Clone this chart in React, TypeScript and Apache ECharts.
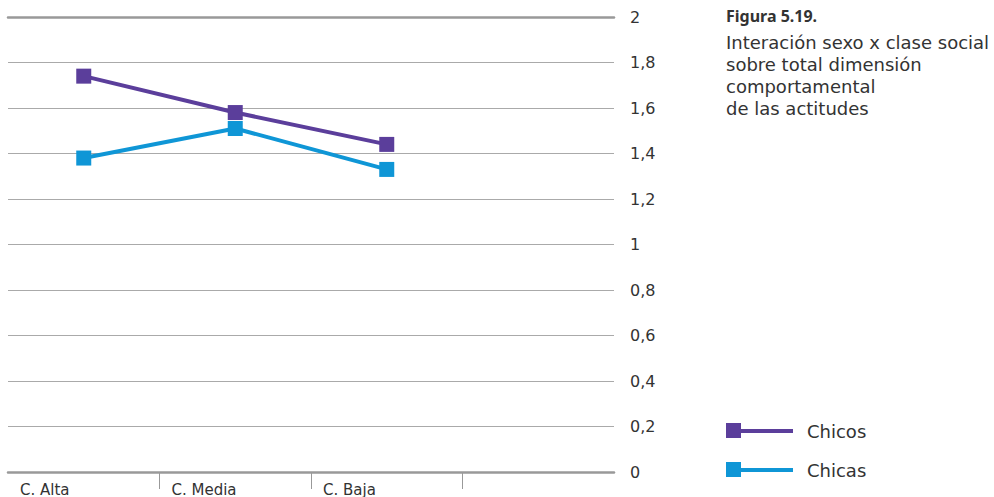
import React, { useEffect, useRef } from "react";
import * as echarts from "echarts";

const categories = ["C. Alta", "C. Media", "C. Baja", ""];
const labelCategories = ["C. Alta", "C. Media", "C. Baja", "", ""];
const chicos = [1.74, 1.58, 1.44];
const chicas = [1.38, 1.51, 1.33];
const seriesNames = ["Chicos", "Chicas"];
const colors = ["#5b3e9b", "#0f96d6"];
const titleLines = [
  "Interación sexo x clase social",
  "sobre total dimensión",
  "comportamental",
  "de las actitudes",
];

export default function App() {
  const ref = useRef<HTMLDivElement>(null);
  useEffect(() => {
    if (!ref.current) return;
    const chart = echarts.init(ref.current, undefined, { renderer: "svg" });
    const font = "'DejaVu Sans', sans-serif";
    const legendY = [431, 470];
    const graphic: any[] = [
      {
        type: "text",
        left: 726,
        top: 8,
        style: { text: "Figura 5.19.", font: `bold 16px 'Noto Sans', sans-serif`, fill: "#333" },
      },
      {
        type: "text",
        left: 726,
        top: 31,
        style: {
          text: titleLines.join("\n"),
          font: `18px ${font}`,
          lineHeight: 22,
          fill: "#333",
        },
      },
    ];
    seriesNames.forEach((n, i) => {
      graphic.push(
        { type: "line", shape: { x1: 735, y1: legendY[i], x2: 793, y2: legendY[i] }, style: { stroke: colors[i], lineWidth: 4 } },
        { type: "rect", shape: { x: 726, y: legendY[i] - 8, width: 15, height: 15 }, style: { fill: colors[i] } },
        { type: "text", x: 807, y: legendY[i], style: { text: n, font: `18px ${font}`, fill: "#333", verticalAlign: "middle" } }
      );
    });
    chart.setOption({
      animation: false,
      grid: { left: 8, right: 380, top: 17, bottom: 25 },
      xAxis: [
        {
          type: "category",
          data: categories,
          boundaryGap: true,
          axisLine: { show: true, lineStyle: { color: "#999", width: 2.5 } },
          axisTick: { show: false },
          axisLabel: { show: false },
        },
        {
          type: "category",
          data: labelCategories,
          boundaryGap: false,
          position: "bottom",
          axisLine: { show: false },
          axisTick: {
            show: true,
            length: 17,
            interval: (idx: number) => idx >= 1 && idx <= 3,
            lineStyle: { color: "#999", width: 1 },
          },
          axisLabel: {
            show: true,
            interval: 0,
            align: "left",
            padding: [0, 0, 0, 12],
            margin: 10,
            fontSize: 15,
            fontFamily: font,
            color: "#333",
          },
        },
        {
          type: "category",
          data: categories,
          position: "top",
          axisLine: { show: true, lineStyle: { color: "#999", width: 2.5 } },
          axisTick: { show: false },
          axisLabel: { show: false },
        },
      ],
      yAxis: {
        type: "value",
        position: "right",
        min: 0,
        max: 2,
        interval: 0.2,
        axisLine: { show: false },
        axisTick: { show: false },
        splitLine: { lineStyle: { color: "#aaa", width: 1 } },
        axisLabel: {
          margin: 16,
          fontSize: 16,
          fontFamily: font,
          color: "#333",
          formatter: (v: number) => String(Math.round(v * 10) / 10).replace(".", ","),
        },
      },
      series: [
        {
          name: seriesNames[0],
          type: "line",
          data: chicos,
          symbol: "rect",
          symbolSize: 15,
          lineStyle: { width: 4, color: colors[0] },
          itemStyle: { color: colors[0] },
        },
        {
          name: seriesNames[1],
          type: "line",
          data: chicas,
          symbol: "rect",
          symbolSize: 15,
          lineStyle: { width: 4, color: colors[1] },
          itemStyle: { color: colors[1] },
        },
      ],
      graphic,
    });
    return () => chart.dispose();
  }, []);
  return <div ref={ref} style={{ width: 994, height: 497, position: "absolute", left: 0, top: 0 }} />;
}
